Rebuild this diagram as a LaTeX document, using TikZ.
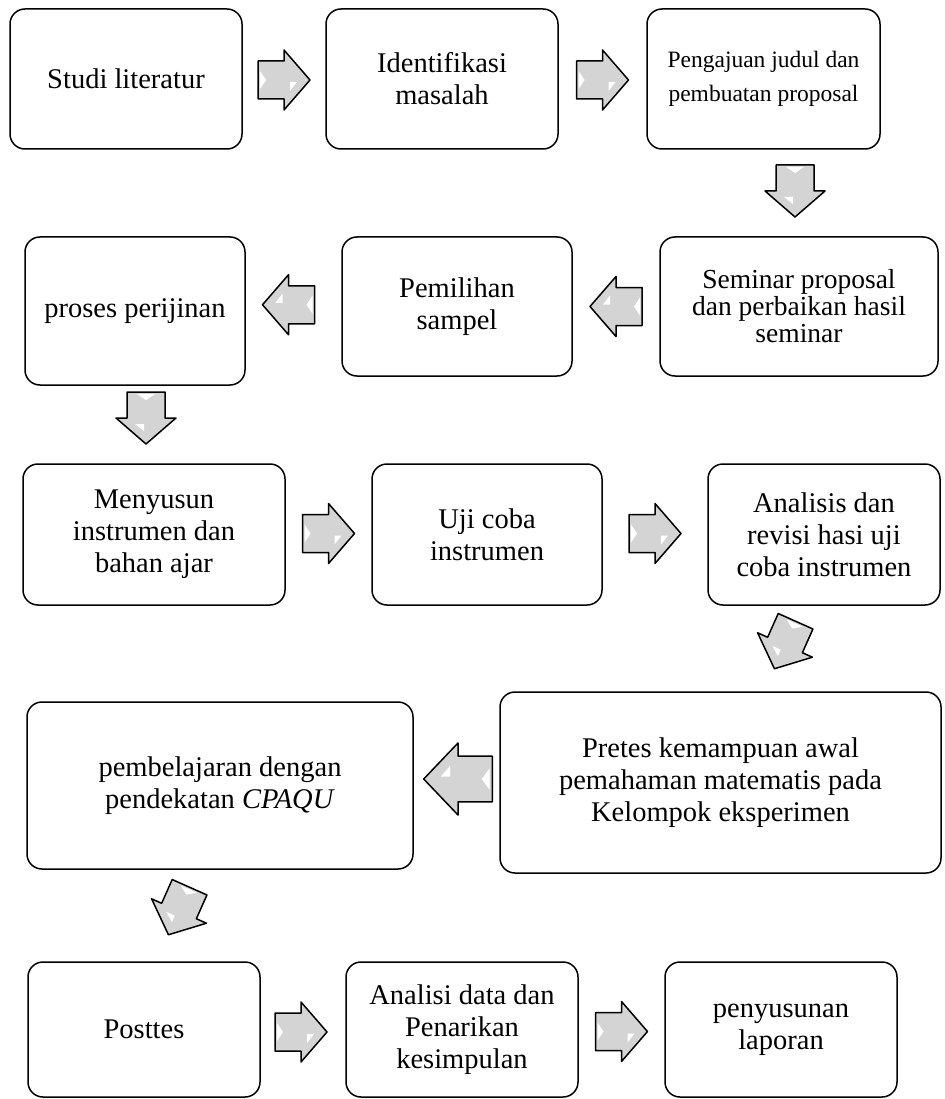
\documentclass[tikz,border=0pt]{standalone}
\usepackage{fontspec}
\setmainfont{Liberation Serif}
\usetikzlibrary{calc}
\definecolor{arrowgray}{HTML}{D4D4D4}
\begin{document}
\begin{tikzpicture}[x=1pt,y=-1pt,
  box/.style={draw=black, line width=1.5pt, rounded corners=15pt, align=center,
    font=\fontsize{28.5}{32}\selectfont, inner sep=0pt},
  barrow/.pic={
    \path[fill=arrowgray, draw=black, line width=1.5pt, line join=round]
      (-26,-19) -- (0,-19) -- (0,-30) -- (26,0) -- (0,30) -- (0,19) -- (-26,19) -- cycle;
    \fill[white] (-24,-9) -- (-18,0) -- (-24,9) -- cycle;
    \fill[white] (6,2) -- (13,2) -- (6,11) -- cycle;
  }]
\useasboundingbox (0,0) rectangle (944,1099);

% row 1
\node[box, minimum width=232pt, minimum height=140pt] (b1) at (126,79) {Studi literatur};
\node[box, minimum width=232pt, minimum height=140pt] (b2) at (442,79) {Identifikasi\\masalah};
\node[box, minimum width=233pt, minimum height=140pt, font=\fontsize{23.5}{34}\selectfont] (b3) at (763.5,79) {Pengajuan judul dan\\pembuatan proposal};
% row 2
\node[box, minimum width=278pt, minimum height=139pt, font=\fontsize{27.5}{27}\selectfont] (b4) at (799,306.5) {Seminar proposal\\dan perbaikan hasil\\seminar};
\node[box, minimum width=230pt, minimum height=139pt] (b5) at (457,306.5) {Pemilihan\\sampel};
\node[box, minimum width=220pt, minimum height=148pt] (b6) at (135,311) {proses perijinan};
% row 3
\node[box, minimum width=262pt, minimum height=141pt] (b7) at (154,534.5) {Menyusun\\instrumen dan\\bahan ajar};
\node[box, minimum width=230pt, minimum height=141pt] (b8) at (487,534.5) {Uji coba\\instrumen};
\node[box, minimum width=232pt, minimum height=141pt] (b9) at (824,534.5) {Analisis dan\\revisi hasi uji\\coba instrumen};
% row 4
\node[box, minimum width=441pt, minimum height=181pt] (b10) at (720.5,782.5) {Pretes kemampuan awal\\pemahaman matematis pada\\Kelompok eksperimen};
\node[box, minimum width=386pt, minimum height=167pt] (b11) at (220,785.5) {pembelajaran dengan\\pendekatan \textit{CPAQU}};
% row 5
\node[box, minimum width=232pt, minimum height=135pt] (b12) at (144,1029.5) {Posttes};
\node[box, minimum width=232pt, minimum height=135pt] (b13) at (462,1029.5) {Analisi data dan\\Penarikan\\kesimpulan};
\node[box, minimum width=232pt, minimum height=135pt] (b14) at (781,1029.5) {penyusunan\\laporan};

% block arrows between the steps
\pic at ($(b1.east)!0.5!(b2.west)+(0,1)$) {barrow};
\pic at ($(b2.east)!0.5!(b3.west)+(0,1)$) {barrow};
\pic[rotate=-90] at (795,191) {barrow};
\pic[rotate=180] at ($(b4.west)!0.5!(b5.east)$) {barrow};
\pic[rotate=180] at ($(b5.west)!0.5!(b6.east)-(5,4)$) {barrow};
\pic[rotate=-90] at (146,418) {barrow};
\pic at ($(b7.east)!0.5!(b8.west)-(0,1)$) {barrow};
\pic at ($(b8.east)!0.5!(b9.west)-(0,1)$) {barrow};
\pic[rotate=-114] at (785,645) {barrow};
\pic[rotate=180, xscale=1.32, yscale=1.2] at (458,779) {barrow};
\pic[rotate=-114] at (179,911) {barrow};
\pic at (301,1032) {barrow};
\pic at ($(b13.east)!0.5!(b14.west)+(0,2)$) {barrow};
\end{tikzpicture}
\end{document}
